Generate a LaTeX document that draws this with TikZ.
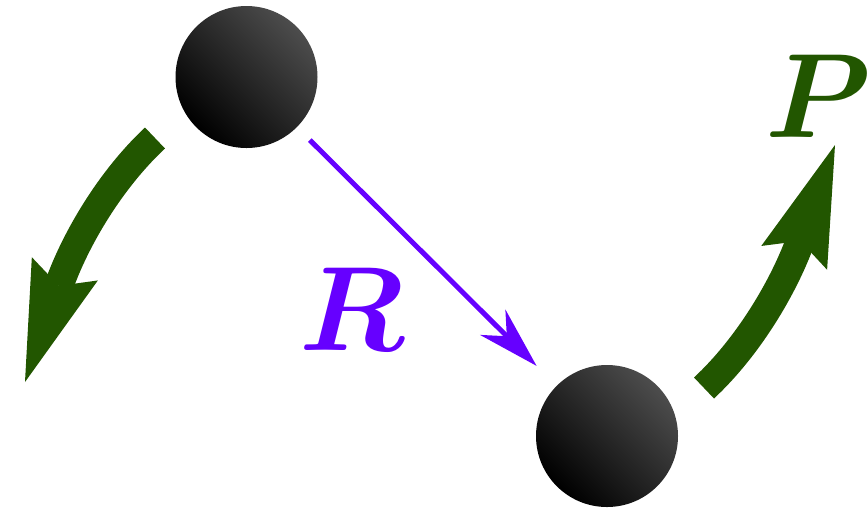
\documentclass[tikz,border=0pt]{standalone}
\usepackage{amsmath,bm}
\usetikzlibrary{arrows.meta}
\definecolor{dgreen}{RGB}{34,86,0}
\definecolor{vpurple}{RGB}{102,0,255}
\tikzset{
  ball/.style={circle, minimum size=142pt*0.5, inner sep=0pt, top color=black!70, bottom color=black, shading angle=-45},
  motion/.style={draw=dgreen, line width=14.5pt, -{Stealth[length=60pt,width=35pt,inset=9pt,line width=0pt]}},
  sep/.style={draw=vpurple, line width=2.5pt, -{Stealth[length=31pt,width=18pt,inset=10pt,line width=0pt]}, shorten <=9pt, shorten >=14pt},
  lab/.style={inner sep=0pt}
}
\begin{document}
\begin{tikzpicture}[x=0.5pt,y=-0.5pt]
\useasboundingbox (0,0) rectangle (867,511);
\node[ball] (A) at (246.5,77) {};
\node[ball] (B) at (607,436) {};
\draw[sep] (A) -- (B);
\node[lab, text=vpurple] (R) at (352,309) {\scalebox{6}{$\bm{R}$}};
\coordinate (L1) at (155,138);
\coordinate (L2) at (25,382);
\draw[motion] (L1) .. controls (110,180) and (75,240) .. (L2);
\coordinate (R1) at (704,388);
\coordinate (R2) at (835,145);
\draw[motion] (R1) .. controls (749,346) and (784,286) .. (R2);
\node[lab, text=dgreen] (P) at (818,96) {\scalebox{6}{$\bm{P}$}};
\end{tikzpicture}
\end{document}
